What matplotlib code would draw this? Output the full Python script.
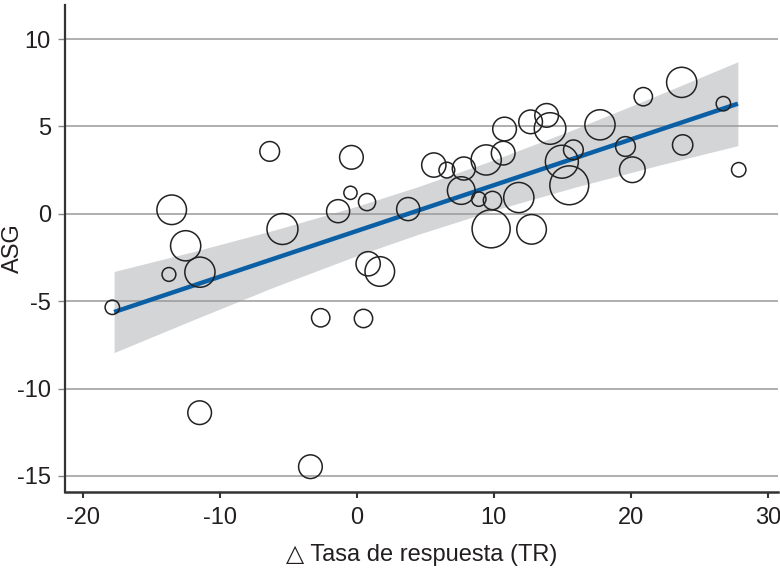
import matplotlib
matplotlib.use("Agg")
import matplotlib.pyplot as plt
import numpy as np

# --- data ---
tr_x = [-6.35, -0.39, -0.46, 0.75, -1.36, 3.75, -13.5, -5.42, -12.48, -11.44,
        -13.7, 0.83, 1.68, -17.83, -2.63, 0.49, -11.46, -3.38, 5.62, 6.57,
        7.81, 7.62, 9.44, 8.9, 9.9, 9.8, 10.68, 10.78, 11.82, 12.75,
        12.68, 13.85, 14.1, 14.96, 15.8, 15.5, 17.74, 19.6, 20.1, 20.9,
        23.7, 23.77, 26.74, 27.86]
asg_y = [3.57, 3.23, 1.20, 0.67, 0.15, 0.27, 0.23, -0.87, -1.83, -3.34,
         -3.47, -2.86, -3.30, -5.35, -5.95, -5.99, -11.38, -14.47, 2.79, 2.50,
         2.59, 1.33, 3.08, 0.84, 0.76, -0.86, 3.47, 4.85, 0.93, -0.89,
         5.26, 5.63, 4.88, 2.98, 3.66, 1.63, 5.09, 3.85, 2.52, 6.70,
         7.52, 3.94, 6.30, 2.52]
peso = [10, 12, 6.7, 8.7, 11.7, 11.7, 15, 15.7, 15.3, 15.3,
        7, 12.3, 15, 7.3, 9.3, 9.3, 12, 12, 12.3, 8,
        11.7, 14, 15.3, 7.3, 9.3, 19.3, 12, 12, 15.3, 15,
        12, 12, 16, 16.7, 10, 19.7, 15.3, 10, 13, 9.3,
        15.3, 10.3, 7.3, 7.3]

fit_x = [-17.7, 27.8]
fit_y = [-5.62, 6.30]
band_x = [-17.7, -12, -6, 0, 4.5, 10, 16, 22, 27.8]
band_lo = [-7.94, -6.09, -4.18, -2.40, -1.17, 0.20, 1.54, 2.77, 3.90]
band_hi = [-3.30, -2.18, -0.93, 0.43, 1.56, 3.08, 4.88, 6.80, 8.70]

x_ticks = [-20, -10, 0, 10, 20, 30]
y_ticks = [-15, -10, -5, 0, 5, 10]
x_label = "△ Tasa de respuesta (TR)"
y_label = "ASG"

# --- style ---
plt.rcParams['font.family'] = ['Liberation Sans', 'DejaVu Sans']
plt.rcParams['axes.unicode_minus'] = False
txt = '#231f20'
fs = 17

fig = plt.figure(figsize=(7.8, 5.74), dpi=100)
ax = fig.add_axes([0.083, 0.1434, 0.914, 0.848])

ax.fill_between(band_x, band_lo, band_hi, color='#d4d5d7', linewidth=0, zorder=0.2)
ax.plot(fit_x, fit_y, color='#0b5fa5', linewidth=3.2, solid_capstyle='butt', zorder=2)
sizes = [(1.42 * p) ** 2 for p in peso]
ax.scatter(tr_x, asg_y, s=sizes, facecolors='none', edgecolors='#222222',
           linewidths=1.1, zorder=3)

ax.set_xlim(-21.3, 30.7)
ax.set_ylim(-15.9, 11.95)
ax.set_xticks(x_ticks)
ax.set_yticks(y_ticks)
ax.set_axisbelow(True)
ax.grid(axis='y', color='#9a9a9a', linewidth=1.1)
ax.grid(axis='x', visible=False)

for s in ['top', 'right']:
    ax.spines[s].set_visible(False)
ax.spines['left'].set_color('#333333')
ax.spines['left'].set_linewidth(1.6)
ax.spines['bottom'].set_color('#333333')
ax.spines['bottom'].set_linewidth(1.8)

ax.tick_params(axis='x', direction='out', length=4, width=1.5, color='#333333',
               labelsize=fs, labelcolor=txt, pad=7)
ax.tick_params(axis='y', direction='out', length=5, width=1.0, color='#888888',
               labelsize=fs, labelcolor=txt, pad=5)

ax.set_xlabel(x_label, fontsize=fs, color=txt, labelpad=11)
ax.set_ylabel(y_label, fontsize=fs, color=txt)
ax.yaxis.set_label_coords(-0.057, 0.5)

fig.savefig("out.png", dpi=100)
